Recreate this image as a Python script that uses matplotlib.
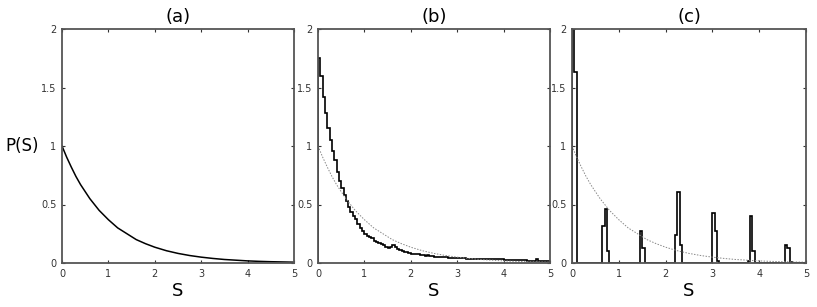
import matplotlib
matplotlib.use('Agg')
import matplotlib.pyplot as plt
import numpy as np

# (a) smooth curve
a_s = [0, 0.1, 0.2, 0.3, 0.4, 0.5, 0.6, 0.7, 0.8, 0.9, 1.0, 1.2, 1.4, 1.6,
       1.8, 2.0, 2.25, 2.5, 2.75, 3.0, 3.25, 3.5, 3.75, 4.0, 4.25, 4.5,
       4.75, 5.0]
a_p = [1.0, 0.905, 0.82, 0.74, 0.67, 0.61, 0.55, 0.50, 0.45, 0.41, 0.37,
       0.30, 0.25, 0.20, 0.165, 0.135, 0.105, 0.082, 0.064, 0.05, 0.039,
       0.03, 0.024, 0.018, 0.014, 0.011, 0.009, 0.007]

# (b) step histogram: bin edges and heights
b_edges = [0.0, 0.05, 0.1, 0.15, 0.2, 0.25, 0.3, 0.35, 0.4, 0.45, 0.5, 0.55,
           0.6, 0.65, 0.7, 0.75, 0.8, 0.85, 0.9, 0.95, 1.0, 1.05, 1.1, 1.15,
           1.2, 1.25, 1.3, 1.35, 1.4, 1.45, 1.5, 1.55, 1.6, 1.65, 1.7, 1.75,
           1.8, 1.85, 1.9, 1.95, 2.0, 2.1, 2.2, 2.3, 2.35, 2.4, 2.5, 2.6, 2.8,
           3.0, 3.2, 3.5, 4.0, 4.5, 4.7, 4.75, 5.0]
b_vals = [1.75, 1.6, 1.42, 1.28, 1.15, 1.05, 0.96, 0.88, 0.78, 0.70, 0.64,
          0.58, 0.53, 0.48, 0.44, 0.40, 0.38, 0.33, 0.30, 0.27, 0.25, 0.23,
          0.22, 0.21, 0.19, 0.18, 0.17, 0.16, 0.15, 0.14, 0.13, 0.14, 0.15,
          0.14, 0.12, 0.11, 0.10, 0.095, 0.09, 0.085, 0.08, 0.075, 0.07,
          0.06, 0.07, 0.06, 0.055, 0.05, 0.045, 0.04, 0.035, 0.03, 0.025,
          0.02, 0.03, 0.02]

# (c) spikes: left edge of each nonzero bin (width 0.05) and its height
c_width = 0.05
c_left = [0.0, 0.05, 0.65, 0.70, 0.75, 1.45, 1.50, 2.20, 2.25, 2.30,
          3.00, 3.05, 3.10, 3.75, 3.80, 3.85, 4.55, 4.60, 4.65]
c_height = [2.6, 1.63, 0.32, 0.46, 0.10, 0.27, 0.13, 0.24, 0.61, 0.15,
            0.43, 0.27, 0.02, 0.02, 0.40, 0.10, 0.15, 0.13, 0.01]

panel_titles = ['(a)', '(b)', '(c)']
x_ticks = [0, 1, 2, 3, 4, 5]
y_ticks = [0, 0.5, 1, 1.5, 2]
y_ticklabels = ['0', '0.5', '1', '1.5', '2']

W, H = 817, 307
fig = plt.figure(figsize=(W / 100, H / 100), dpi=100)
lefts = [62, 318, 572]
widths = [232, 232, 234]
top, bottom = 29, 263
axes = []
for l, w in zip(lefts, widths):
    ax = fig.add_axes([l / W, (H - bottom) / H, w / W, (bottom - top) / H])
    axes.append(ax)

for ax, t, l, w in zip(axes, panel_titles, lefts, widths):
    ax.set_xlim(0, 5)
    ax.set_ylim(0, 2)
    ax.set_xticks(x_ticks)
    ax.set_xticklabels([str(v) for v in x_ticks])
    ax.set_yticks(y_ticks)
    ax.set_yticklabels(y_ticklabels)
    ax.tick_params(direction='in', length=2.5, width=0.8, labelsize=7,
                   top=True, right=True, pad=4, colors='#333333')
    for sp in ax.spines.values():
        sp.set_color('#555555')
        sp.set_linewidth(1.3)
    ax.set_title(t, fontsize=13, pad=5)
    fig.text((l + w / 2) / W, 1 - 291 / H, 'S', fontsize=13,
             ha='center', va='center')

fig.text(22 / W, 1 - 146 / H, 'P(S)', fontsize=12, ha='center', va='center')

# (a)
axes[0].plot(a_s, a_p, color='black', lw=1.1)

# (b)
axes[1].plot(a_s, a_p, color='#888888', lw=0.7, linestyle=(0, (1.5, 1.5)))
axes[1].stairs(b_vals, b_edges, color='black', lw=1.2)

# (c)
edges = np.round(np.arange(0, 5 + c_width / 2, c_width), 4)
hist = np.zeros(len(edges) - 1)
for l, h in zip(c_left, c_height):
    hist[int(round(l / c_width))] = h
axes[2].plot(a_s, a_p, color='#888888', lw=0.7, linestyle=(0, (1.5, 1.5)))
axes[2].stairs(hist, edges, color='black', lw=1.2)

fig.savefig('out.png', dpi=100)
